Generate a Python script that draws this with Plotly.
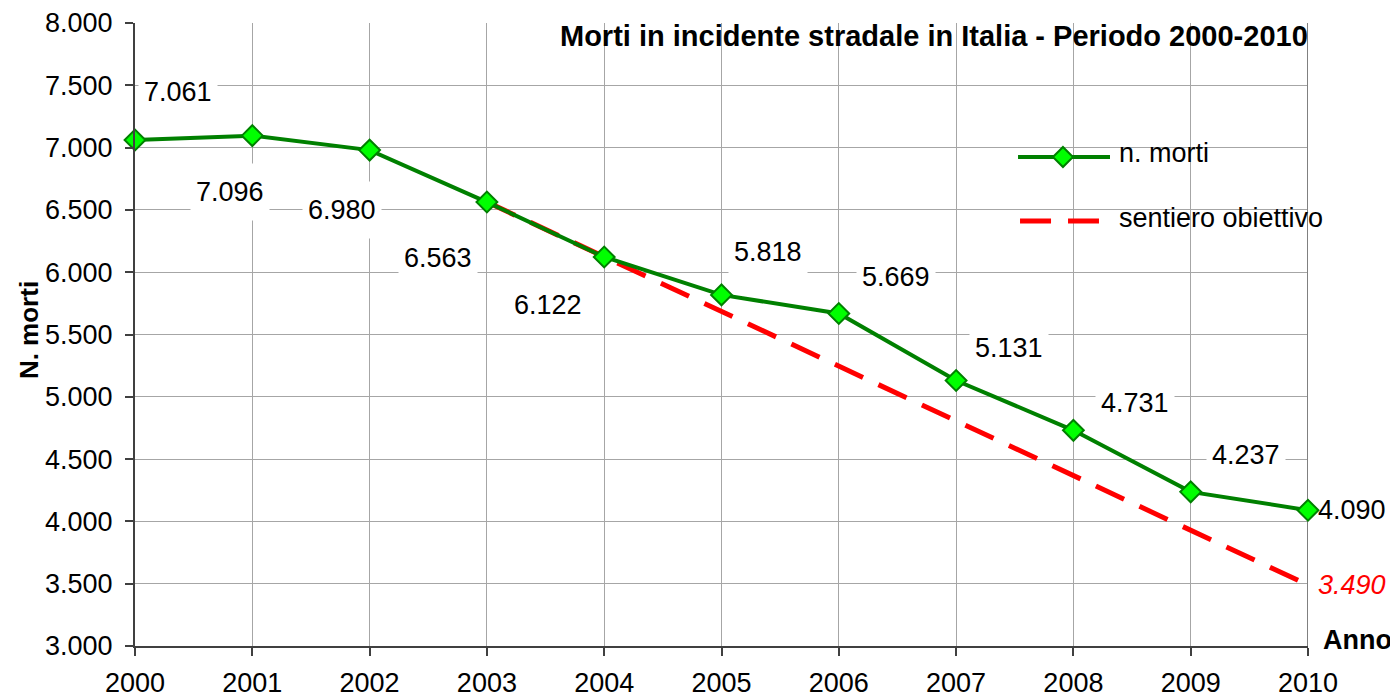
import plotly.graph_objects as go

# ---- data ----
years = [2000, 2001, 2002, 2003, 2004, 2005, 2006, 2007, 2008, 2009, 2010]
deaths = [7061, 7096, 6980, 6563, 6122, 5818, 5669, 5131, 4731, 4237, 4090]
target_years = [2003, 2010]
target_values = [6563, 3490]
y_ticks = [3000, 3500, 4000, 4500, 5000, 5500, 6000, 6500, 7000, 7500, 8000]
y_tick_labels = ["3.000", "3.500", "4.000", "4.500", "5.000", "5.500",
                 "6.000", "6.500", "7.000", "7.500", "8.000"]
x_tick_labels = [str(y) for y in years]

# label offsets in pixels (positions, kept apart from data)
label_dx = [43, -22, -28, -49, -56, 46, 57, 53, 62, 55, 44]
label_dy = [48, -56, -60, -56, -48, 43, 36, 32, 27, 37, 0]
label_boxed = [True] * 10 + [False]

FONT = "Liberation Sans, Arial, sans-serif"
GREEN = "#008000"
RED = "#ff0000"


def fmt(v):
    return f"{v:,}".replace(",", ".")


fig = go.Figure()

fig.add_trace(go.Scatter(
    x=target_years, y=target_values, mode="lines",
    line=dict(color=RED, width=5, dash="31px,17px"),
    name="sentiero obiettivo", showlegend=False, cliponaxis=False,
))
fig.add_trace(go.Scatter(
    x=years, y=deaths, mode="lines+markers",
    line=dict(color=GREEN, width=4),
    marker=dict(symbol="diamond", size=16, color="#00ff00",
                line=dict(color=GREEN, width=2)),
    name="n. morti", showlegend=False, cliponaxis=False,
))

annotations = []
for yr, v, dx, dy, boxed in zip(years, deaths, label_dx, label_dy, label_boxed):
    annotations.append(dict(
        x=yr, y=v, xref="x", yref="y", text=fmt(v), showarrow=False,
        xshift=dx, yshift=dy, font=dict(family=FONT, size=27, color="black"),
        bgcolor="white" if boxed else "rgba(0,0,0,0)", borderpad=5, height=46,
    ))
# target end value
annotations.append(dict(
    x=target_years[-1], y=target_values[-1], xref="x", yref="y",
    text="<i>" + fmt(target_values[-1]) + "</i>", showarrow=False,
    xshift=44, yshift=0, font=dict(family=FONT, size=27, color=RED),
))

# title
annotations.append(dict(
    x=1.0017, y=0.979, xref="paper", yref="paper", xanchor="right", yanchor="middle",
    text="<b>Morti in incidente stradale in Italia - Periodo 2000-2010</b>",
    showarrow=False, font=dict(family=FONT, size=29, color="black"),
))
# axis titles
annotations.append(dict(
    x=1.0418, y=0.0096, xref="paper", yref="paper", xanchor="center", yanchor="middle",
    text="<b>Anno</b>", showarrow=False, font=dict(family=FONT, size=27, color="black"),
))
annotations.append(dict(
    x=-0.0904, y=0.507, xref="paper", yref="paper", xanchor="center", yanchor="middle",
    text="<b>N. morti</b>", textangle=-90, showarrow=False,
    font=dict(family=FONT, size=26, color="black"),
))
# custom legend texts
annotations.append(dict(
    x=0.8372, y=0.7913, xref="paper", yref="paper", xanchor="left", yanchor="middle",
    text="n. morti", showarrow=False, font=dict(family=FONT, size=27, color="black"),
))
annotations.append(dict(
    x=0.8372, y=0.687, xref="paper", yref="paper", xanchor="left", yanchor="middle",
    text="sentiero obiettivo", showarrow=False, font=dict(family=FONT, size=27, color="black"),
))

shapes = [
    # right border of plot area
    dict(type="line", xref="x", yref="y", x0=2010, x1=2010, y0=3000, y1=8000,
         line=dict(color="#808080", width=2), layer="between"),
    # white box behind title
    dict(type="rect", xref="paper", yref="paper", x0=0.3529, x1=1.04, y0=0.9326, y1=1.05,
         fillcolor="white", line=dict(width=0), layer="between"),
    # white legend box
    dict(type="rect", xref="paper", yref="paper", x0=0.746, x1=1.0315, y0=0.6244, y1=0.8427,
         fillcolor="white", line=dict(width=0), layer="between"),
    # legend: green line
    dict(type="line", xref="paper", yref="paper", x0=0.7528, x1=0.8312, y0=0.7849, y1=0.7849,
         line=dict(color=GREEN, width=4), layer="above"),
    # legend: red dashed line
    dict(type="line", xref="paper", yref="paper", x0=0.7545, x1=0.8218, y0=0.6822, y1=0.6822,
         line=dict(color=RED, width=5, dash="31px,17px"), layer="above"),
]
cx, cy, hx, hy = 0.7911, 0.7849, 10 / 1173, 10 / 623
shapes.append(dict(
    type="path", xref="paper", yref="paper",
    path=f"M {cx - hx},{cy} L {cx},{cy + hy} L {cx + hx},{cy} L {cx},{cy - hy} Z",
    fillcolor="#00ff00", line=dict(color=GREEN, width=2), layer="above",
))

fig.update_layout(
    width=1390, height=691,
    margin=dict(l=127, r=90, t=15, b=53, autoexpand=False),
    paper_bgcolor="white", plot_bgcolor="white",
    showlegend=False,
    font=dict(family=FONT, color="black"),
    annotations=annotations,
    shapes=shapes,
    xaxis=dict(
        range=[2000, 2010], tickvals=years, ticktext=x_tick_labels,
        showgrid=True, gridcolor="#a6a6a6", gridwidth=1,
        showline=True, linecolor="#404040", linewidth=2,
        ticks="outside", ticklen=8, tickcolor="#404040", tickwidth=1.5,
        zeroline=False, tickfont=dict(family=FONT, size=27, color="black"),
        ticklabelstandoff=4, automargin=False,
    ),
    yaxis=dict(
        range=[3000, 8000], tickvals=y_ticks, ticktext=y_tick_labels,
        showgrid=True, gridcolor="#a6a6a6", gridwidth=1,
        showline=True, linecolor="#404040", linewidth=2,
        ticks="outside", ticklen=8, tickcolor="#404040", tickwidth=1.5,
        zeroline=False, tickfont=dict(family=FONT, size=27, color="black"),
        ticklabelstandoff=7, automargin=False,
    ),
)

fig.write_html("out.html")
